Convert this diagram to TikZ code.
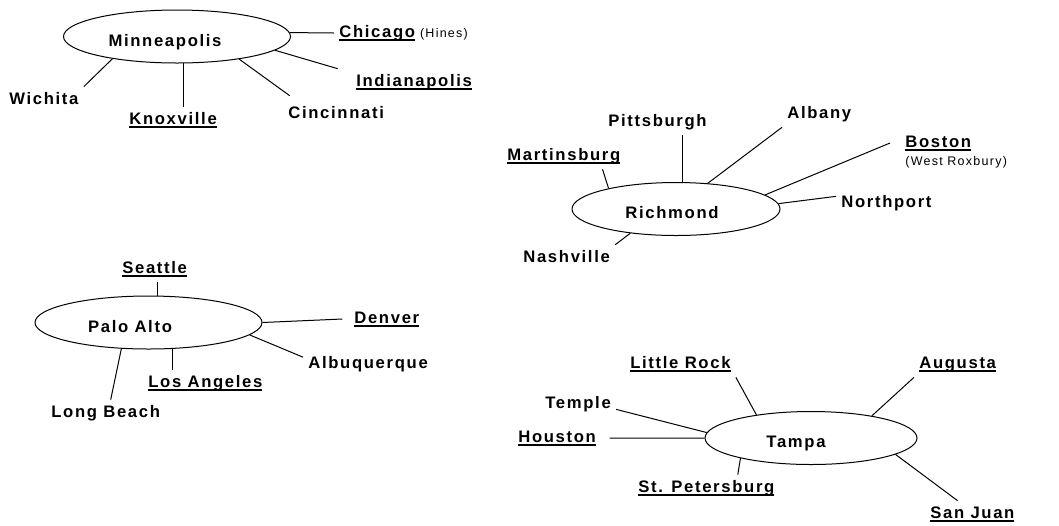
\documentclass[tikz,border=0pt]{standalone}
\usepackage{fontspec}
\setmainfont{Liberation Sans}[LetterSpace=10]
\usetikzlibrary{shapes.geometric}
\newcommand\ulname[1]{\setbox0\hbox{#1}\rlap{\rule[-2.4pt]{\wd0}{1.1pt}}\box0}
\tikzset{
  hub/.style={draw,ellipse,line width=0.6pt,minimum width=#1,minimum height=31.8pt,inner sep=0pt},
  hub/.default={136pt},
  hubtxt/.style={anchor=base,font=\fontsize{10}{12}\selectfont\bfseries},
  city/.style={anchor=base west,xshift=-3pt,inner sep=3pt,text height=7.2pt,text depth=2.4pt,font=\fontsize{10}{12}\selectfont\bfseries},
  sub/.style={anchor=base west,inner sep=0pt,font=\fontsize{7.5}{9}\selectfont},
  conn/.style={line width=0.6pt},
}
\begin{document}
\begin{tikzpicture}[x=0.6pt,y=-0.6pt]
 \useasboundingbox (0,0) rectangle (1059,525);
 % Minneapolis
 \node[hub=136.2pt] (mn) at (177,36.5) {};
 \node[hubtxt] (mnt) at (165,46) {Minneapolis};
 \node[city] (chi) at (339,37) {\ulname{Chicago}\hspace{3pt}{\mdseries\fontsize{7.5}{9}\selectfont(Hines)}};
 \node[city] (ind) at (356,86) {\ulname{Indianapolis}};
 \node[city] (cin) at (288,118) {Cincinnati};
 \node[city] (kn) at (129,124) {\ulname{Knoxville}};
 \node[city] (wi) at (9,104) {Wichita};
 \draw[conn] (mn.2) -- (chi.west);
 \draw[conn] (mn.-8) -- ([xshift=-8pt]ind.north west);
 \draw[conn] (mn.-20) -- ([shift={(4pt,3pt)}]cin.north west);
 \draw[conn] (mn.-77) -- (mn.-77 |- kn.north);
 \draw[conn] (mn.199) -- (wi.north east);
 % Richmond
 \node[hub=124.8pt] (rm) at (676,209) {};
 \node[hubtxt] (rmt) at (672,218) {Richmond};
 \node[city] (mb) at (507,160) {\ulname{Martinsburg}};
 \node[city] (pit) at (608,126) {Pittsburgh};
 \node[city] (alb) at (787,118) {Albany};
 \node[city] (bos) at (905,147) {\ulname{Boston}};
 \node[sub] (bosx) at (905,165) {(West Roxbury)};
 \node[city] (np) at (841,207) {Northport};
 \node[city] (nas) at (523,262) {Nashville};
 \draw[conn] (rm.163) -- (mb.-19);
 \draw[conn] (rm.77) -- (rm.77 |- pit.south);
 \draw[conn] (rm.39) -- (alb.south west);
 \draw[conn] (rm.9) -- ([xshift=-6pt]bos.west);
 \draw[conn] (rm.3) -- ([yshift=4pt]np.west);
 \draw[conn] (rm.208) -- (nas.north east);
 % Palo Alto
 \node[hub=136.2pt] (pa) at (148.5,322.5) {};
 \node[hubtxt] (pat) at (130,332) {Palo Alto};
 \node[city] (sea) at (122,273) {\ulname{Seattle}};
 \node[city] (den) at (354,323) {\ulname{Denver}};
 \node[city] (alq) at (308,368) {Albuquerque};
 \node[city] (la) at (148,387) {\ulname{Los Angeles}};
 \node[city] (lb) at (51,417) {Long Beach};
 \draw[conn] (pa.72) -- (pa.72 |- sea.south);
 \draw[conn] (pa.east) -- ([xshift=-4pt]den.west);
 \draw[conn] (pa.-7) -- (alq.174);
 \draw[conn] (pa.-48) -- (pa.-48 |- la.north);
 \draw[conn] (pa.224) -- ([xshift=3pt]lb.north);
 % Tampa
 \node[hub=127.2pt] (tp) at (811,438) {};
 \node[hubtxt] (tpt) at (796,447) {Tampa};
 \node[city] (lr) at (630,368) {\ulname{Little Rock}};
 \node[city] (aug) at (919,368) {\ulname{Augusta}};
 \node[city] (tem) at (545,408) {Temple};
 \node[city] (hou) at (518,442) {\ulname{Houston}};
 \node[city] (stp) at (638,492) {\ulname{St. Petersburg}};
 \node[city] (sj) at (930,518) {\ulname{San Juan}};
 \draw[conn] (tp.157) -- (lr.south east);
 \draw[conn] (tp.20) -- (aug.south west);
 \draw[conn] (tp.177) -- (tem.-8);
 \draw[conn] (tp.west) -- ([xshift=5pt]hou.east);
 \draw[conn] (tp.196) -- (stp.23);
 \draw[conn] (tp.-11) -- (sj.138);
\end{tikzpicture}
\end{document}
